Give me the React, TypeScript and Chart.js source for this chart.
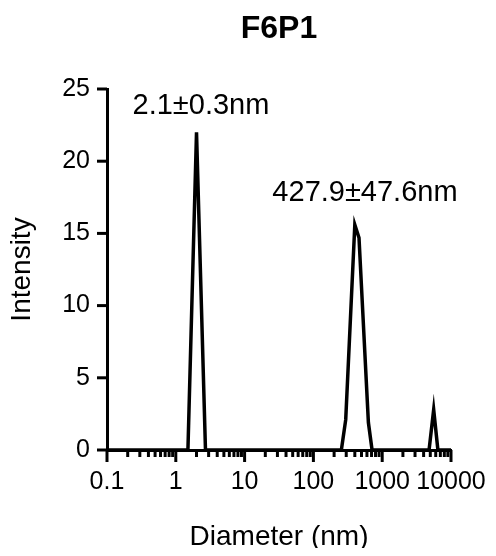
import React, { useEffect, useRef } from "react";
import { Chart, registerables } from "chart.js";

Chart.register(...registerables);

const TITLE = "F6P1";
const X_TITLE = "Diameter (nm)";
const Y_TITLE = "Intensity";

const DIAMETER = [0.1, 1.5, 2.0, 2.7, 255, 295, 400, 460, 630, 712, 4800, 5600, 6450, 10000];
const INTENSITY = [0, 0, 22.0, 0, 0, 2.1, 15.6, 14.7, 1.9, 0, 0, 2.8, 0, 0];

const DECADES = [0.1, 1, 10, 100, 1000, 10000];
const DECADE_LABELS = ["0.1", "1", "10", "100", "1000", "10000"];
const MINOR_MULTIPLIERS = [2, 3, 4, 5, 6, 7, 8, 9];

const Y_TICKS = [0, 5, 10, 15, 20, 25];

const ANNOT_TEXT = ["2.1±0.3nm", "427.9±47.6nm"];
const ANNOT_X = [2.32, 562];
const ANNOT_Y = [23.27, 17.24];

const FONT = "'Liberation Sans', Arial, Helvetica, sans-serif";

function buildXTicks() {
  const out: { value: number; major: boolean }[] = [];
  DECADES.forEach((d, i) => {
    out.push({ value: d, major: true });
    if (i < DECADES.length - 1) {
      MINOR_MULTIPLIERS.forEach((m) => out.push({ value: m * d, major: false }));
    }
  });
  return out;
}

const tickPlugin = {
  id: "customTicks",
  afterDraw(chart: any) {
    const { ctx, chartArea, scales } = chart;
    const xs = scales.x;
    const ys = scales.y;
    ctx.save();
    ctx.strokeStyle = "#000";
    ctx.lineCap = "butt";
    buildXTicks().forEach((t) => {
      const px = xs.getPixelForValue(t.value);
      ctx.lineWidth = 3;
      ctx.beginPath();
      ctx.moveTo(px, chartArea.bottom);
      ctx.lineTo(px, chartArea.bottom + (t.major ? 12 : 7));
      ctx.stroke();
    });
    Y_TICKS.forEach((v) => {
      const py = ys.getPixelForValue(v);
      ctx.lineWidth = 3;
      ctx.beginPath();
      ctx.moveTo(chartArea.left - 10, py);
      ctx.lineTo(chartArea.left, py);
      ctx.stroke();
    });
    ctx.fillStyle = "#000";
    ctx.font = `29px ${FONT}`;
    ctx.textAlign = "center";
    ctx.textBaseline = "alphabetic";
    ANNOT_TEXT.forEach((txt, i) => {
      ctx.fillText(txt, xs.getPixelForValue(ANNOT_X[i]), ys.getPixelForValue(ANNOT_Y[i]));
    });
    ctx.restore();
  },
};

export default function App() {
  const ref = useRef<HTMLCanvasElement | null>(null);
  useEffect(() => {
    if (!ref.current) return;
    const chart = new Chart(ref.current, {
      type: "line",
      data: {
        datasets: [
          {
            data: DIAMETER.map((d, i) => ({ x: d, y: INTENSITY[i] })),
            borderColor: "#000",
            borderWidth: 3.5,
            pointRadius: 0,
            tension: 0,
            fill: false,
            clip: false as any,
            borderJoinStyle: "miter",
          },
        ],
      },
      options: {
        animation: false,
        responsive: true,
        maintainAspectRatio: false,
        layout: { padding: 0 },
        plugins: {
          legend: { display: false },
          tooltip: { enabled: false },
          title: {
            display: true,
            text: TITLE,
            fullSize: false,
            color: "#000",
            font: { family: FONT, size: 32, weight: "bold", lineHeight: 1.2 },
            padding: { top: 2, bottom: 40.6 },
          },
        },
        scales: {
          x: {
            type: "logarithmic",
            min: 0.1,
            max: 10000,
            afterBuildTicks: (scale: any) => {
              scale.ticks = buildXTicks().map((t) => ({ value: t.value, major: t.major }));
            },
            afterFit: (scale: any) => {
              scale.height = 106;
              scale.paddingRight = 37;
              scale.paddingLeft = 0;
            },
            grid: { display: false, drawTicks: false },
            border: { display: true, color: "#000", width: 3 },
            ticks: {
              autoSkip: false,
              maxRotation: 0,
              minRotation: 0,
              padding: 17,
              color: "#000",
              font: { family: FONT, size: 25 },
              callback: (value: any) => {
                const idx = DECADES.findIndex((d) => Math.abs(d - Number(value)) < d * 1e-6);
                return idx >= 0 ? DECADE_LABELS[idx] : "";
              },
            },
            title: {
              display: true,
              text: X_TITLE,
              color: "#000",
              font: { family: FONT, size: 28, lineHeight: 1.2 },
              padding: { top: 0, bottom: 1.5 },
            },
          },
          y: {
            type: "linear",
            min: 0,
            max: 25,
            afterFit: (scale: any) => {
              scale.width = 99;
            },
            grid: { display: false, drawTicks: false },
            border: { display: true, color: "#000", width: 3 },
            ticks: {
              stepSize: 5,
              padding: 17,
              color: "#000",
              font: { family: FONT, size: 25 },
            },
            title: {
              display: true,
              text: Y_TITLE,
              color: "#000",
              font: { family: FONT, size: 28, lineHeight: 1 },
              padding: { top: 0, bottom: 0 },
            },
          },
        },
      },
      plugins: [tickPlugin],
    } as any);
    return () => chart.destroy();
  }, []);
  return (
    <div style={{ width: 480, height: 548, marginBottom: -8, position: "relative" }}>
      <canvas ref={ref} />
    </div>
  );
}
